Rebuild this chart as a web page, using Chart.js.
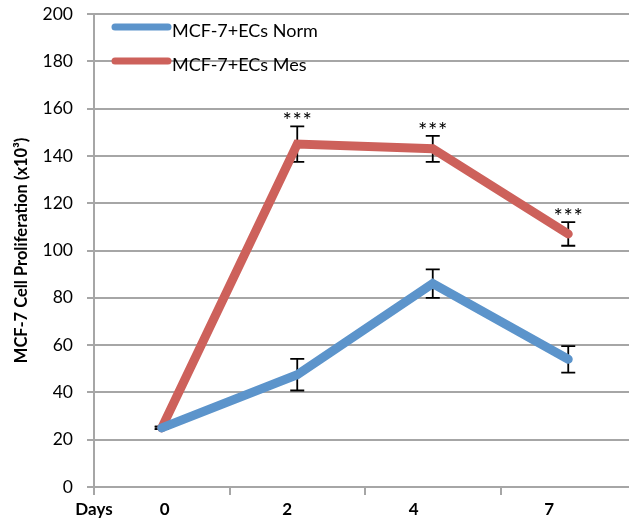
<!DOCTYPE html>
<html>
<head>
<meta charset="utf-8">
<title>MCF-7 proliferation</title>
<script src="https://cdn.jsdelivr.net/npm/chart.js@4/dist/chart.umd.min.js"></script>
<style>
  html, body { margin: 0; padding: 0; background: #fff; overflow: hidden; }
  #chart { display: block; }
</style>
</head>
<body>
<canvas id="chart" width="640" height="524"></canvas>
<script>
// ---- data ----
const days = ['0', '2', '4', '7'];
const normMean = [25, 47.5, 86, 54];
const normErr = [0.5, 6.7, 6, 5.6];
const mesMean = [25, 145, 143, 107];
const mesErr = [0.5, 7.5, 5.5, 5];
const mesSig = ['', '***', '***', '***'];
const seriesNames = ['MCF-7+ECs Norm', 'MCF-7+ECs Mes'];

const FONT = 'Lato, "Open Sans", sans-serif';
const GRID = '#A6A6A6';
// small shifts of the x labels, like in the original figure
const labelNudge = [3, -10, -19, -19];

const errorBars = {
  id: 'errorBars',
  beforeDatasetsDraw(chart) {
    const { ctx, scales: { x, y } } = chart;
    ctx.save();
    ctx.strokeStyle = '#000';
    ctx.lineWidth = 1.8;
    chart.data.datasets.forEach(ds => {
      ds.err.forEach((e, i) => {
        const px = x.getPixelForValue(i);
        const top = y.getPixelForValue(ds.data[i] + e);
        const bot = y.getPixelForValue(ds.data[i] - e);
        ctx.beginPath();
        ctx.moveTo(px, top); ctx.lineTo(px, bot);
        ctx.moveTo(px - 7, top); ctx.lineTo(px + 7, top);
        ctx.moveTo(px - 7, bot); ctx.lineTo(px + 7, bot);
        ctx.stroke();
      });
    });
    ctx.restore();
  },
  afterDatasetsDraw(chart) {
    const { ctx, scales: { x, y } } = chart;
    ctx.save();
    ctx.fillStyle = '#000';
    ctx.font = '22px ' + FONT;
    ctx.textAlign = 'center';
    ctx.textBaseline = 'alphabetic';
    chart.data.datasets.forEach(ds => {
      if (!ds.sig) return;
      ds.sig.forEach((s, i) => {
        if (!s) return;
        const px = x.getPixelForValue(i);
        const top = y.getPixelForValue(ds.data[i] + ds.err[i]);
        // draw each star on its own so they spread like the original
        const n = s.length;
        for (let k = 0; k < n; k++) ctx.fillText(s[k], px + (k - (n - 1) / 2) * 10, top + 2);
      });
    });
    ctx.restore();
  }
};

const axisText = {
  id: 'axisText',
  afterDraw(chart) {
    const { ctx, scales: { x } } = chart;
    ctx.save();
    ctx.fillStyle = '#000';
    ctx.font = 'bold 17px ' + FONT;
    ctx.textAlign = 'center';
    ctx.textBaseline = 'alphabetic';
    ctx.fillText('Days', x.left, 515);
    days.forEach((d, i) => ctx.fillText(d, x.getPixelForValue(i) + labelNudge[i], 515));

    // legend
    ctx.font = '18px ' + FONT;
    ctx.textAlign = 'left';
    ctx.textBaseline = 'middle';
    chart.data.datasets.forEach((ds, i) => {
      const ly = 27 + 34 * i;
      ctx.strokeStyle = ds.borderColor;
      ctx.lineWidth = 7;
      ctx.lineCap = 'round';
      ctx.beginPath();
      ctx.moveTo(115, ly); ctx.lineTo(168, ly);
      ctx.stroke();
      ctx.fillText(ds.label, 172, ly + 4);
    });
    ctx.restore();
  }
};

new Chart(document.getElementById('chart'), {
  type: 'line',
  data: {
    labels: days,
    datasets: [
      { label: seriesNames[0], data: normMean, err: normErr, borderColor: '#5C94CB' },
      { label: seriesNames[1], data: mesMean, err: mesErr, sig: mesSig, borderColor: '#CD615B' }
    ].map(d => ({ ...d, borderWidth: 9, pointRadius: 0, tension: 0, borderCapStyle: 'round', borderJoinStyle: 'miter', fill: false }))
  },
  options: {
    responsive: false,
    animation: false,
    layout: { padding: { top: 14, right: 4, left: 0, bottom: 0 } },
    plugins: { legend: { display: false }, tooltip: { enabled: false } },
    scales: {
      x: {
        offset: true,
        grid: { display: true, offset: true, drawOnChartArea: false, drawTicks: true, tickLength: 8, color: GRID, lineWidth: 2 },
        border: { color: GRID, width: 2 },
        ticks: { display: false },
        afterFit: s => { s.height = 37; }
      },
      y: {
        min: 0, max: 200,
        ticks: { stepSize: 20, color: '#000', font: { family: FONT, size: 17.5 }, padding: 14 },
        grid: { color: GRID, lineWidth: 2, tickLength: 7 },
        border: { color: GRID, width: 2 },
        title: {
          display: true,
          text: 'MCF-7 Cell Proliferation (x10³)',
          color: '#000',
          font: { family: FONT, size: 16.5, weight: 'bold' },
          padding: { top: 12, bottom: 0 }
        },
        afterFit: s => { s.width = 94; s.paddingTop = 0; s.paddingBottom = 0; }
      }
    }
  },
  plugins: [errorBars, axisText]
});
</script>
</body>
</html>
